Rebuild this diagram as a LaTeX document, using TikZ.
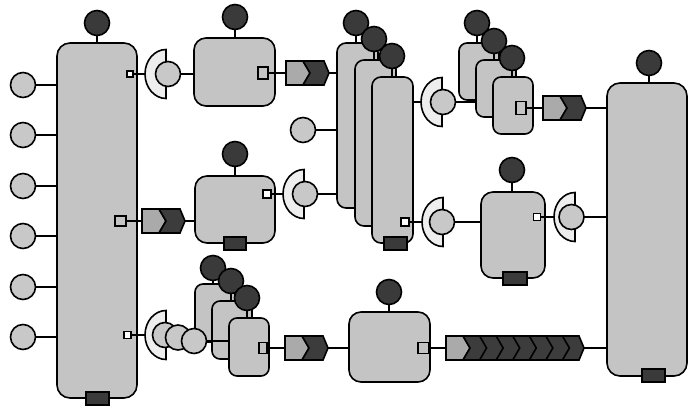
\documentclass[tikz,border=0pt]{standalone}
\usepackage{tikz}
\definecolor{boxc}{RGB}{196,196,196}
\definecolor{dcol}{RGB}{58,58,58}
\definecolor{lcol}{RGB}{200,200,200}
\definecolor{recc}{RGB}{238,238,238}
\definecolor{tagLight}{RGB}{170,170,170}
\definecolor{tagDark}{RGB}{60,60,60}
\newcommand\tagshape[4]{%
  \draw[fill=tagLight] (#2,#3-12) -- (#2+17,#3-12) -- (#2+24,#3) -- (#2+17,#3+12) -- (#2,#3+12) -- cycle;
  \draw[fill=tagDark] (#2+17,#3-12) -- (#4,#3-12) -- (#4+5,#3) -- (#4,#3+12) -- (#2+17,#3+12) -- (#2+24,#3) -- cycle;
  \coordinate (#1-w) at (#2,#3);
  \coordinate (#1-e) at (#4+5,#3);
}
\newcommand\rcpt[5]{%
  \draw[fill=recc] (#2,#3+24.5) arc[start angle=-90,end angle=-270,x radius=21pt,y radius=24.5pt] -- cycle;
  \coordinate (#1-w) at (#2-21,#3);
  \node[lc] (#1) at (#4,#5) {};
}
\begin{document}
\begin{tikzpicture}[x=1pt,y=-1pt,line width=1.6pt,
  box/.style={draw,fill=boxc,rounded corners=#1,inner sep=0pt,outer sep=0pt},
  box/.default=12pt,
  dc/.style={circle,draw,fill=dcol,minimum size=25pt,inner sep=0pt,outer sep=0pt},
  lc/.style={circle,draw,fill=lcol,minimum size=25pt,inner sep=0pt,outer sep=0pt},
  wport/.style={draw,fill=white,inner sep=0pt,outer sep=0pt,minimum size=7pt,line width=1.3pt},
  gport/.style={draw,fill=boxc,inner sep=0pt,outer sep=0pt,minimum width=10pt,minimum height=11pt,line width=1.3pt},
  botr/.style={draw,fill=dcol,inner sep=0pt,outer sep=0pt,minimum width=23pt,minimum height=13pt}
]
\useasboundingbox (0,0) rectangle (698,410);

% ---- left big box
\node[box=13pt,minimum width=80pt,minimum height=355pt] (L) at (97,220.5) {};
\node[botr] (rL) at (97.5,398.5) {};
\node[dc] (cL) at (97,23) {};
\draw (cL) -- (cL |- L.north);
\foreach \n/\y in {1/85,2/135,3/186,4/236,5/287,6/337}{
  \node[lc] (l\n) at (23,\y) {};
  \draw (l\n) -- (l\n -| L.west);
}
\node[wport,minimum size=6pt] (pL1) at (130,74) {};
\node[gport,minimum width=11pt,minimum height=10pt] (pL2) at (120.5,221) {};
\node[wport] (pL3) at (127.5,335) {};

% ---- right big box
\node[box=13pt,minimum width=80pt,minimum height=293pt] (RB) at (647,229.5) {};
\node[botr] (rRB) at (653.5,375.5) {};
\node[dc] (cRB) at (649,63) {};
\draw (cRB) -- (cRB |- RB.north);

% ---- top row
\rcpt{R1}{166}{74}{168}{74}
\draw (pL1) -- (R1-w);
\node[box,minimum width=81pt,minimum height=68pt] (A) at (234.5,72) {};
\node[dc] (cA) at (235,17) {};
\draw (cA) -- (cA |- A.north);
\draw (R1) -- (R1 -| A.west);
\node[gport,minimum height=12pt] (pA) at (263,73) {};
\tagshape{T1}{286}{73}{324}
\draw (pA) -- (T1-w);

% ---- stack S
\node[box=9pt,minimum width=41pt,minimum height=165pt] (S1) at (357.5,125.5) {};
\node[dc] (cS1) at (356,23) {};
\draw (cS1) -- (cS1 |- S1.north);
\node[box=9pt,minimum width=41pt,minimum height=166pt] (S2) at (375.5,143) {};
\node[dc] (cS2) at (374,39) {};
\draw (cS2) -- (cS2 |- S2.north);
\node[box=9pt,minimum width=41pt,minimum height=166pt] (S3) at (392.5,160) {};
\node[dc] (cS3) at (392,56) {};
\draw (cS3) -- (cS3 |- S3.north);
\node[botr] (rS3) at (395.5,243.5) {};
\node[wport,minimum size=8pt] (pS3) at (405,222) {};
\draw (T1-e) -- (T1-e -| S1.west);
\node[lc] (lS) at (303,130) {};
\draw (lS) -- (lS -| S1.west);

% ---- box B
\node[box,minimum width=80pt,minimum height=67pt] (B) at (235,209.5) {};
\node[botr,minimum width=22pt] (rB) at (235,243.5) {};
\node[dc] (cB) at (235,154) {};
\draw (cB) -- (cB |- B.north);
\node[wport,minimum size=8pt] (pB) at (267,194) {};
\tagshape{T2}{142}{221}{180}
\draw (pL2) -- (T2-w);
\draw (T2-e) -- (T2-e -| B.west);
\rcpt{R2}{304}{194}{305}{194}
\draw (pB) -- (R2-w);
\draw (R2) -- (R2 -| S1.west);

% ---- box C
\rcpt{R3}{443}{222}{442}{222}
\draw (pS3) -- (R3-w);
\node[box,minimum width=64pt,minimum height=86pt] (C) at (513,235) {};
\node[botr,minimum width=24pt] (rC) at (515,278.5) {};
\node[dc] (cC) at (512,170) {};
\draw (cC) -- (cC |- C.north);
\draw (R3) -- (R3 -| C.west);
\node[wport,minimum size=7pt] (pC) at (537,217) {};
\rcpt{R4}{575}{217}{571.5}{217}
\draw (pC) -- (R4-w);
\draw (R4) -- (R4 -| RB.west);

% ---- stack Q
\rcpt{R5}{442}{102}{443}{102}
\draw (R5-w) -- (R5-w -| S3.east);
\node[box=8pt,minimum width=40pt,minimum height=57pt] (Q1) at (479,71.5) {};
\node[dc] (cQ1) at (477,23) {};
\draw (cQ1) -- (cQ1 |- Q1.north);
\node[box=8pt,minimum width=40pt,minimum height=57pt] (Q2) at (496,88.5) {};
\node[dc] (cQ2) at (494,41) {};
\draw (cQ2) -- (cQ2 |- Q2.north);
\node[box=8pt,minimum width=40pt,minimum height=57pt] (Q3) at (513,105.5) {};
\node[dc] (cQ3) at (512,58) {};
\draw (cQ3) -- (cQ3 |- Q3.north);
\draw (R5) -- (R5 -| Q2.west);
\node[gport,minimum height=13pt] (pQ3) at (521,108) {};
\tagshape{T3}{543}{108}{581}
\draw (pQ3) -- (T3-w);
\draw (T3-e) -- (T3-e -| RB.west);

% ---- bottom stack P
\node[box=8pt,minimum width=40pt,minimum height=58pt] (P1) at (215,313) {};
\node[dc] (cP1) at (213,268) {};
\draw (cP1) -- (cP1 |- P1.north);
\node[box=8pt,minimum width=40pt,minimum height=58pt] (P2) at (232,330) {};
\node[dc] (cP2) at (231,281) {};
\draw (cP2) -- (cP2 |- P2.north);
\node[box=8pt,minimum width=40pt,minimum height=58pt] (P3) at (249,347) {};
\node[dc] (cP3) at (247,298) {};
\draw (cP3) -- (cP3 |- P3.north);
\rcpt{R6}{166}{335}{165}{335}
\draw (pL3) -- (R6-w);
\node[lc] (g2) at (178,337.5) {};
\node[lc] (g3) at (194,341) {};
\draw (g3) -- (g3 -| P3.west);
\node[gport,minimum width=8pt] (pP3) at (263,348) {};
\tagshape{T4}{285}{348}{323}
\draw (pP3) -- (T4-w);

% ---- box D
\node[box,minimum width=81pt,minimum height=70pt] (D) at (389.5,347) {};
\node[dc] (cD) at (389,292) {};
\draw (cD) -- (cD |- D.north);
\draw (T4-e) -- (T4-e -| D.west);
\node[gport,minimum width=11pt] (pD) at (423.5,348) {};
\tagshape{T5}{446}{348}{579}
\foreach \i in {1,...,6}{
  \draw (463+16.57*\i,336) -- (470+16.57*\i,348) -- (463+16.57*\i,360);
}
\draw (pD) -- (T5-w);
\draw (T5-e) -- (T5-e -| RB.west);
\end{tikzpicture}
\end{document}
